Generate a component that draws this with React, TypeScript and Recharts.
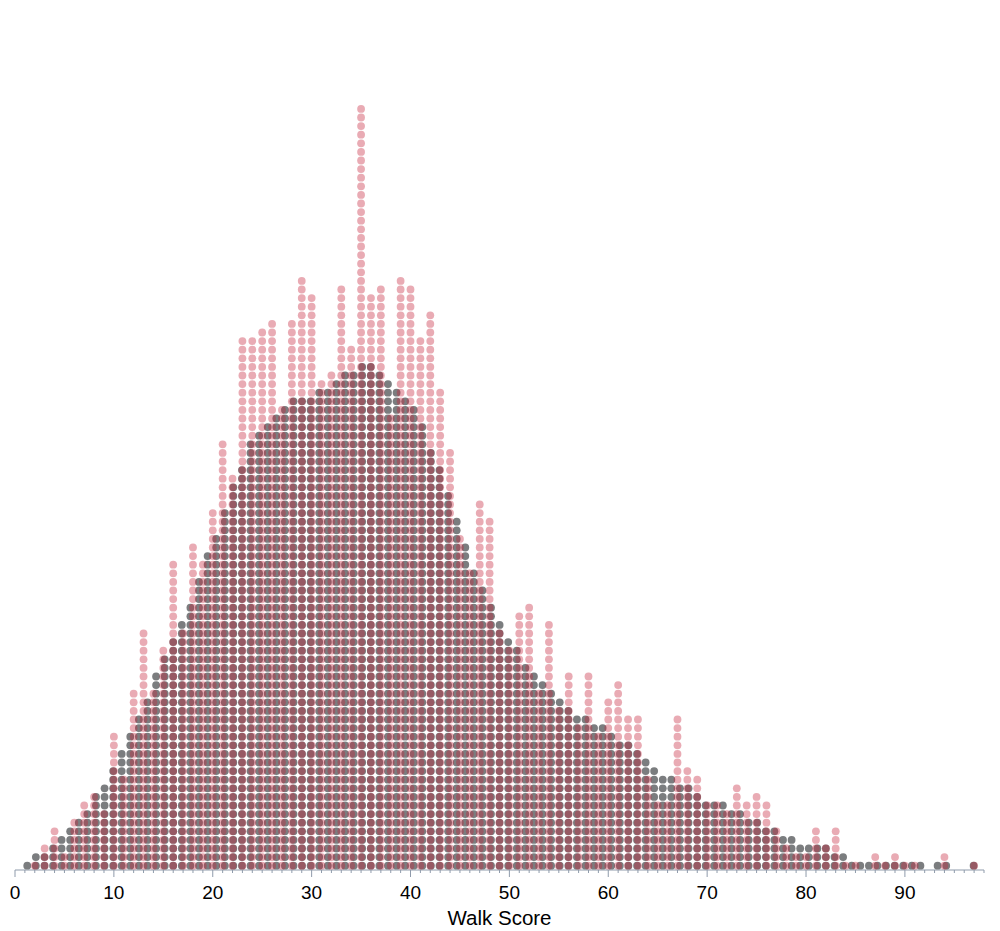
import { Scatter, ScatterChart, XAxis, YAxis } from 'recharts'

// Binned dot stacks: the grey layer sits on its own dot-width bins,
// the pink layer is stacked on whole scores.
const greyBins = [
  1.24, 2.11, 2.98, 3.85, 4.71, 5.58, 6.45, 7.32, 8.19, 9.06,
  9.93, 10.79, 11.66, 12.53, 13.4, 14.27, 15.14, 16.0, 16.87, 17.74,
  18.61, 19.48, 20.35, 21.22, 22.08, 22.95, 23.82, 24.69, 25.56, 26.43,
  27.3, 28.17, 29.03, 29.9, 30.77, 31.64, 32.51, 33.38, 34.24, 35.11,
  35.98, 36.85, 37.72, 38.59, 39.46, 40.32, 41.19, 42.06, 42.93, 43.8,
  44.67, 45.54, 46.4, 47.27, 48.14, 49.01, 49.88, 50.75, 51.62, 52.48,
  53.35, 54.22, 55.09, 55.96, 56.83, 57.7, 58.56, 59.43, 60.3, 61.17,
  62.04, 62.91, 63.78, 64.64, 65.51, 66.38, 67.25, 68.12, 68.99, 69.85,
  70.72, 71.59, 72.46, 73.33, 74.2, 75.07, 75.93, 76.8, 77.67, 78.54,
  79.41, 80.28, 81.15, 82.01, 82.88, 83.75, 84.62, 85.49, 86.36, 87.22,
  88.09, 88.96, 89.83, 90.7, 91.57, 93.31, 94.18, 96.95,
]
const greyCounts = [
  1, 2, 2, 3, 4, 5, 6, 7, 9, 10,
  12, 14, 16, 18, 20, 23, 25, 27, 29, 31,
  34, 37, 39, 42, 45, 47, 50, 51, 52, 53,
  54, 55, 55, 55, 56, 56, 57, 58, 58, 59,
  59, 58, 57, 56, 55, 54, 52, 49, 47, 44,
  41, 38, 35, 33, 31, 29, 27, 26, 24, 23,
  22, 21, 20, 19, 18, 18, 17, 17, 16, 15,
  15, 14, 13, 12, 11, 11, 10, 10, 9, 8,
  8, 8, 7, 7, 6, 6, 5, 5, 4, 4,
  3, 3, 3, 3, 2, 2, 1, 1, 1, 1,
  1, 1, 1, 1, 1, 1, 1, 1,
]

const pinkScores = [
  2, 3, 4, 5, 6, 7, 8, 9, 10,
  11, 12, 13, 14, 15, 16, 17, 18, 19, 20,
  21, 22, 23, 24, 25, 26, 27, 28, 29, 30,
  31, 32, 33, 34, 35, 36, 37, 38, 39, 40,
  41, 42, 43, 44, 45, 46, 47, 48, 49, 50,
  51, 52, 53, 54, 55, 56, 57, 58, 59, 60,
  61, 62, 63, 64, 65, 66, 67, 68, 69, 70,
  71, 72, 73, 74, 75, 76, 77, 78, 79, 80,
  81, 82, 83, 84, 85, 87, 88, 89, 90,
  91, 94, 97,
]
const pinkCounts = [
  1, 3, 5, 2, 6, 8, 9, 7, 16,
  11, 21, 28, 21, 26, 36, 28, 38, 36, 42,
  50, 46, 62, 62, 63, 64, 54, 64, 69, 67,
  57, 58, 68, 61, 89, 67, 68, 53, 69, 68,
  62, 65, 56, 49, 39, 35, 43, 41, 28, 26,
  30, 31, 21, 29, 19, 23, 17, 23, 16, 20,
  22, 18, 18, 11, 8, 8, 18, 12, 11, 8,
  8, 7, 10, 8, 9, 8, 5, 3, 2, 2,
  5, 3, 5, 1, 1, 2, 1, 2, 1,
  1, 2, 1,
]

const axisTicks = [
  0, 1, 2, 3, 4, 5, 6, 7, 8, 9, 10, 11, 12, 13, 14, 15, 16, 17, 18, 19,
  20, 21, 22, 23, 24, 25, 26, 27, 28, 29, 30, 31, 32, 33, 34, 35, 36, 37, 38, 39,
  40, 41, 42, 43, 44, 45, 46, 47, 48, 49, 50, 51, 52, 53, 54, 55, 56, 57, 58, 59,
  60, 61, 62, 63, 64, 65, 66, 67, 68, 69, 70, 71, 72, 73, 74, 75, 76, 77, 78, 79,
  80, 81, 82, 83, 84, 85, 86, 87, 88, 89, 90, 91, 92, 93, 94, 95, 96, 97, 98,
]

const AXIS_COLOR = '#8f9bab'
const FONT = '"Liberation Sans", Arial, sans-serif'

// one point per dot, stacked upward from the axis
function stackDots(xs: number[], counts: number[]) {
  return xs.flatMap((x, i) =>
    Array.from({ length: counts[i] }, (_, row) => ({ x, y: row + 0.5 })),
  )
}

function Dot({ cx, cy, fill, opacity }: any) {
  return <circle cx={cx} cy={cy} r={3.9} fill={fill} fillOpacity={opacity} />
}

// recharts hands the tick y one default tick length below the axis line
function ScoreTick({ x, y, payload }: any) {
  const major = payload.value % 10 === 0
  const axisY = y - 6
  return (
    <g>
      <line x1={x} x2={x} y1={axisY} y2={axisY + (major ? 7 : 3)} stroke={AXIS_COLOR} />
      {major && (
        <text
          x={x}
          y={axisY + 29}
          textAnchor="middle"
          fontSize={19}
          fontFamily={FONT}
          fill="#000"
        >
          {payload.value}
        </text>
      )}
    </g>
  )
}

export default function App() {
  return (
    <div style={{ position: 'absolute', left: 0, top: 0 }}>
      <ScatterChart
        width={1000}
        height={931}
        margin={{ top: 10, right: 16, bottom: 0, left: 15 }}
      >
        <XAxis
          type="number"
          dataKey="x"
          domain={[0, 98]}
          ticks={axisTicks}
          interval={0}
          height={61}
          axisLine={{ stroke: AXIS_COLOR }}
          tickLine={false}
          tick={<ScoreTick />}
          tickMargin={0}
          label={{
            value: 'Walk Score',
            position: 'insideBottom',
            offset: 6,
            fontSize: 20.5,
            fontFamily: FONT,
            fill: '#000',
          }}
        />
        <YAxis type="number" dataKey="y" domain={[0, 100]} hide />
        <Scatter
          data={stackDots(greyBins, greyCounts)}
          isAnimationActive={false}
          shape={(p: any) => <Dot {...p} fill="#7b7d7f" opacity={1} />}
        />
        <Scatter
          data={stackDots(pinkScores, pinkCounts)}
          isAnimationActive={false}
          shape={(p: any) => <Dot {...p} fill="#c5223a" opacity={0.38} />}
        />
      </ScatterChart>
    </div>
  )
}
